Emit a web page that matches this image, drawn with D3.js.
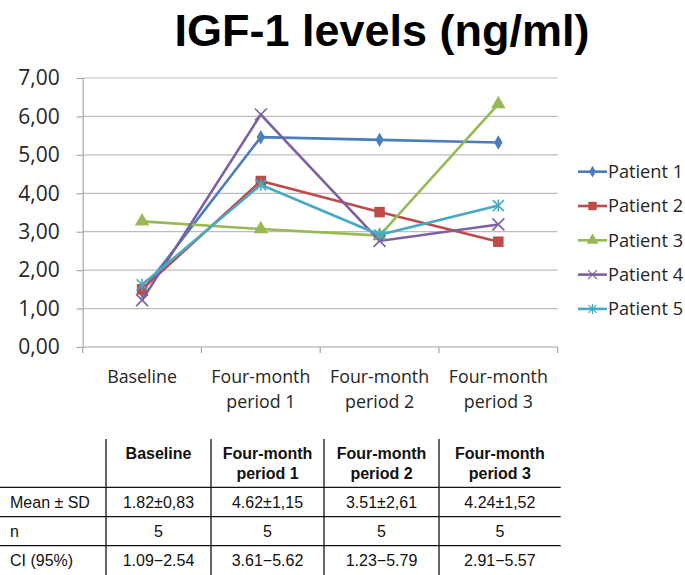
<!DOCTYPE html>
<html><head><meta charset="utf-8">
<script src="https://cdn.jsdelivr.net/npm/d3@7"></script>
<style>body{margin:0;background:#fff}svg{display:block}</style>
</head><body>
<svg id="c" width="685" height="575"></svg>
<script>
const title = "IGF-1 levels (ng/ml)";
const categories = [["Baseline"], ["Four-month", "period 1"], ["Four-month", "period 2"], ["Four-month", "period 3"]];
const seriesNames = ["Patient 1", "Patient 2", "Patient 3", "Patient 4", "Patient 5"];
const patient1 = [1.45, 5.46, 5.39, 5.32];
const patient2 = [1.50, 4.32, 3.51, 2.74];
const patient3 = [3.27, 3.07, 2.90, 6.32];
const patient4 = [1.22, 6.05, 2.76, 3.19];
const patient5 = [1.62, 4.22, 2.92, 3.68];
const yTicks = [0, 1, 2, 3, 4, 5, 6, 7];
const colors = ["#4a7ebb", "#be4b48", "#98b954", "#7d60a0", "#46aac5"];
const markers = ["diamond", "square", "triangle", "x", "star"];

const tableHeader = [[""], ["Baseline"], ["Four-month", "period 1"], ["Four-month", "period 2"], ["Four-month", "period 3"]];
const tableRows = [
  ["Mean ± SD", "1.82±0,83", "4.62±1,15", "3.51±2,61", "4.24±1,52"],
  ["n", "5", "5", "5", "5"],
  ["CI (95%)", "1.09\u22122.54", "3.61\u22125.62", "1.23\u22125.79", "2.91\u22125.57"]
];

const series = [patient1, patient2, patient3, patient4, patient5];
const svg = d3.select("#c");
const chartFont = "'Open Sans', sans-serif";
const tableFont = "'Liberation Sans', Arial, sans-serif";

svg.append("text").attr("x", 382).attr("y", 46).attr("text-anchor", "middle")
  .attr("font-family", tableFont).attr("font-weight", "bold").attr("font-size", 45)
  .attr("fill", "#000").text(title);

const x = d3.scaleBand().domain(d3.range(categories.length)).range([82.7, 557.7]);
const y = d3.scaleLinear().domain([0, 7]).range([347, 78]);

// gridlines
svg.append("g").selectAll("line").data(yTicks.filter(d => d > 0)).join("line")
  .attr("x1", 82.7).attr("x2", 557.7).attr("y1", d => y(d)).attr("y2", d => y(d))
  .attr("stroke", "#bdbdbd").attr("stroke-width", 1.2);

// y axis
const ya = svg.append("g").attr("transform", "translate(82.7,0)")
  .call(d3.axisLeft(y).tickValues(yTicks).tickSize(6).tickPadding(17)
    .tickFormat(d => d3.format(".2f")(d).replace(".", ",")));
ya.select(".domain").attr("stroke", "#a6a6a6").attr("stroke-width", 1.2);
ya.selectAll(".tick line").attr("stroke", "#a6a6a6").attr("stroke-width", 1.2);
ya.selectAll(".tick text").attr("font-family", chartFont).attr("font-size", 21).attr("fill", "#262626");

// x axis
const xa = svg.append("g").attr("transform", "translate(0,347)");
xa.append("line").attr("x1", 82.7).attr("x2", 557.7).attr("stroke", "#a6a6a6").attr("stroke-width", 1.2);
const bounds = d3.range(categories.length + 1).map(i => i < categories.length ? x(i) : x(i - 1) + x.bandwidth());
xa.selectAll("line.tk").data(bounds).join("line").attr("class", "tk")
  .attr("x1", d => d).attr("x2", d => d).attr("y1", 0).attr("y2", 6)
  .attr("stroke", "#a6a6a6").attr("stroke-width", 1.2);
categories.forEach((lines, i) => {
  const t = xa.append("text").attr("text-anchor", "middle").attr("font-family", chartFont)
    .attr("font-size", 17.8).attr("fill", "#262626");
  lines.forEach((ln, j) => t.append("tspan").attr("x", x(i) + x.bandwidth() / 2).attr("y", 35.5 + j * 25.5).text(ln));
});

function markerPath(type) {
  switch (type) {
    case "diamond": return d3.symbol(d3.symbolDiamond, 60)();
    case "square": return d3.symbol(d3.symbolSquare, 110)();
    case "triangle": return d3.symbol(d3.symbolTriangle, 90)();
    case "x": return "M-6,-6L6,6M-6,6L6,-6";
    case "star": return "M-5.5,-5.5L5.5,5.5M-5.5,5.5L5.5,-5.5M0,-6L0,6";
  }
}
const line = d3.line().x((d, i) => x(i) + x.bandwidth() / 2).y(d => y(d));

series.forEach((vals, k) => {
  const g = svg.append("g");
  g.append("path").datum(vals).attr("d", line).attr("fill", "none")
    .attr("stroke", colors[k]).attr("stroke-width", 2.6);
  g.selectAll("path.m").data(vals).join("path").attr("class", "m")
    .attr("transform", (d, i) => `translate(${x(i) + x.bandwidth() / 2},${y(d)})`)
    .attr("d", markerPath(markers[k]))
    .attr("fill", colors[k]).attr("stroke", colors[k])
    .attr("stroke-width", (markers[k] === "x" || markers[k] === "star") ? 1.6 : 0);
});

// legend
const lg = svg.append("g");
seriesNames.forEach((name, k) => {
  const yy = 171.7 + k * 34.3;
  lg.append("line").attr("x1", 578).attr("x2", 607).attr("y1", yy).attr("y2", yy)
    .attr("stroke", colors[k]).attr("stroke-width", 2.6);
  const s = markers[k] === "diamond" ? d3.symbol(d3.symbolDiamond, 40)() :
            markers[k] === "square" ? d3.symbol(d3.symbolSquare, 70)() :
            markers[k] === "triangle" ? d3.symbol(d3.symbolTriangle, 60)() :
            markers[k] === "x" ? "M-4.5,-4.5L4.5,4.5M-4.5,4.5L4.5,-4.5" : "M-4,-4L4,4M-4,4L4,-4M0,-5L0,5";
  lg.append("path").attr("transform", `translate(592.5,${yy})`).attr("d", s)
    .attr("fill", colors[k]).attr("stroke", colors[k])
    .attr("stroke-width", (markers[k] === "x" || markers[k] === "star") ? 1.2 : 0);
  lg.append("text").attr("x", 608).attr("y", yy + 6.3).attr("font-family", chartFont)
    .attr("font-size", 18.2).attr("fill", "#262626").text(name);
});

// table
const colX = [0, 106, 211, 324, 439, 560.7];
const tg = svg.append("g");
[487.3, 516.7, 545.7].forEach(yy => tg.append("line").attr("x1", 0).attr("x2", colX[5])
  .attr("y1", yy).attr("y2", yy).attr("stroke", "#111").attr("stroke-width", 1.3));
colX.slice(1, 5).forEach(xx => tg.append("line").attr("x1", xx).attr("x2", xx)
  .attr("y1", 439).attr("y2", 575).attr("stroke", "#111").attr("stroke-width", 1.3));
tableHeader.forEach((lines, c) => {
  if (!lines[0]) return;
  const cx = (colX[c] + colX[c + 1]) / 2;
  const t = tg.append("text").attr("text-anchor", "middle").attr("font-family", tableFont)
    .attr("font-weight", "bold").attr("font-size", 16).attr("fill", "#111");
  lines.forEach((ln, j) => t.append("tspan").attr("x", cx).attr("y", 458.5 + j * 20).text(ln));
});
const rowY = [502, 531, 560.5];
tableRows.forEach((row, r) => {
  row.forEach((cell, c) => {
    const cx = c === 0 ? 10 : (colX[c] + colX[c + 1]) / 2;
    tg.append("text").attr("x", cx).attr("y", rowY[r] + 5.8)
      .attr("text-anchor", c === 0 ? "start" : "middle").attr("font-family", tableFont)
      .attr("font-size", 16).attr("fill", "#111").text(cell);
  });
});
</script>
</body></html>
